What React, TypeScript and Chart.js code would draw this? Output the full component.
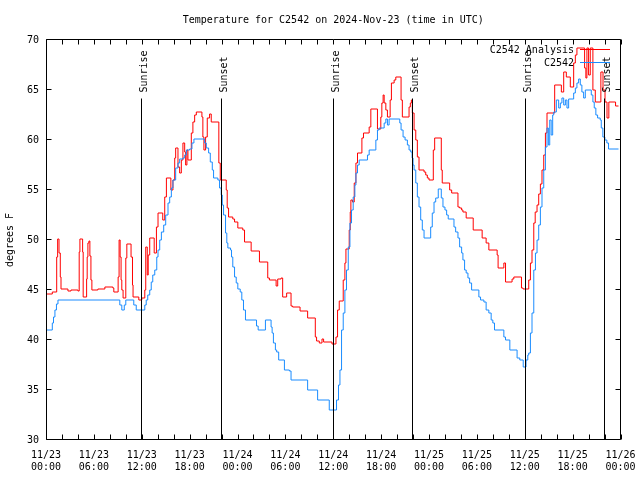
import React, { useEffect, useRef } from "react";
import { Chart, registerables } from "chart.js";

Chart.register(...registerables);

const TITLE = "Temperature for C2542 on 2024-Nov-23 (time in UTC)";
const Y_TITLE = "degrees F";
const ANALYSIS_NAME = "C2542 Analysis";
const STATION_NAME = "C2542";

// Hours since 2024-11-23 00:00 UTC, values in degrees F (step changes)
const analysisHours = [
  0, 0.79, 1.34, 1.46, 1.63, 1.79, 1.88, 2.75, 3.13, 4.0,
  4.16, 4.25, 4.59, 4.66, 5.09, 5.16, 5.25, 5.38, 5.5, 5.63,
  5.75, 6.5, 7.38, 8.38, 8.5, 9.04, 9.16, 9.29, 9.41, 9.5,
  9.66, 10.0, 10.13, 10.66, 10.84, 10.91, 11.63, 12.0, 12.38, 12.5,
  12.69, 12.81, 13.0, 13.56, 13.84, 14.04, 14.63, 14.88, 15.09, 15.65,
  15.91, 16.13, 16.25, 16.54, 16.75, 16.96, 17.16, 17.38, 17.5, 17.66,
  17.79, 18.21, 18.41, 18.63, 18.84, 19.54, 19.66, 19.79, 20.0, 20.21,
  20.5, 20.71, 21.66, 21.84, 22.59, 22.71, 22.88, 23.41, 23.63, 24.04,
  24.66, 24.88, 25.71, 26.75, 27.79, 28.0, 28.84, 29.04, 29.46, 29.66,
  30.16, 30.71, 30.91, 31.84, 32.79, 33.75, 33.91, 34.25, 34.59, 34.79,
  35.84, 36.34, 36.54, 36.75, 37.25, 37.46, 37.59, 38.0, 38.13, 38.21,
  38.41, 38.63, 38.84, 39.04, 39.59, 39.79, 40.5, 40.71, 41.54, 41.96,
  42.09, 42.25, 42.38, 42.59, 42.79, 43.13, 43.29, 43.63, 43.84, 44.5,
  44.66, 45.5, 45.66, 45.79, 45.91, 46.13, 46.34, 46.54, 46.75, 47.38,
  47.59, 47.79, 48.0, 48.54, 48.71, 49.54, 49.66, 50.59, 50.84, 51.63,
  51.84, 52.09, 52.25, 52.66, 53.54, 54.66, 55.16, 55.5, 56.54, 56.66,
  57.38, 57.59, 58.41, 58.63, 59.59, 59.79, 60.5, 60.71, 60.91, 61.13,
  61.31, 61.54, 61.75, 61.96, 62.16, 62.38, 62.59, 62.79, 63.75, 64.59,
  64.88, 65.21, 65.71, 66.13, 66.34, 66.54, 67.5, 67.66, 67.79, 68.0,
  68.21, 68.54, 68.84, 69.54, 69.81, 70.06, 70.31, 70.54, 71.38, 71.75,
];
const analysisTemps = [
  44.6, 44.8, 48.3, 50.1, 48.7, 46.3, 45.1, 44.9, 45, 44.9,
  48.8, 50.1, 48.8, 44.3, 46.1, 48.3, 49.7, 49.9, 48.4, 46,
  45, 45.1, 45.3, 45.2, 44.8, 46.3, 50, 48.3, 46, 45,
  44.2, 48.2, 49.6, 48.3, 45.5, 44.3, 44, 44.2, 45, 49.3,
  46.5, 48.5, 50.2, 48.7, 51.3, 52.7, 52, 54.3, 56.2, 55,
  56, 58.2, 59.2, 57.3, 56.7, 58, 59.7, 58.8, 57.5, 59,
  58, 60.7, 61.8, 62.5, 62.8, 62.3, 60.3, 59, 60.3, 62.2,
  62.6, 61.8, 57.7, 56, 55, 53.2, 52.3, 52.1, 51.8, 51.2,
  51, 49.8, 48.9, 47.8, 46.2, 46, 45.4, 46.1, 46.2, 44.3,
  44.7, 43.4, 43.3, 42.9, 42.2, 40.3, 39.9, 39.7, 40.1, 39.8,
  39.6, 40.3, 43, 43.9, 46, 47.7, 49.1, 51, 52.8, 54,
  53.8, 55.7, 57.7, 58.7, 60.2, 60.7, 61.3, 63.1, 61.1, 62.3,
  63.7, 64.5, 63.7, 63, 62.3, 64, 65.7, 66, 66.3, 64,
  62.3, 63.3, 63.7, 64, 62.7, 61, 60, 58.3, 57, 56.8,
  56.5, 56.2, 56, 59, 60.2, 57, 55.7, 55, 54.7, 53.3,
  53.2, 53, 52.8, 52.2, 51, 50.2, 49.7, 49, 48.5, 47.2,
  47.7, 45.8, 46.1, 46.3, 45.2, 45.1, 46, 47.7, 49, 51.7,
  52.8, 53.5, 54.6, 55.6, 57, 58.5, 60.7, 62.7, 65.5, 64.8,
  66.8, 66.3, 65.3, 67.7, 68.5, 69.2, 67.2, 66.2, 69.2, 66.5,
  69.2, 65, 63.8, 66.8, 65, 63.8, 62.2, 63.8, 63.4, 63.4,
];

const stationHours = [
  0, 0.79, 0.94, 1.12, 1.31, 1.5, 9.25, 9.5, 9.81, 10.0,
  11.0, 11.31, 12.38, 12.56, 12.75, 13.0, 13.19, 13.38, 13.63, 13.88,
  14.04, 14.25, 14.46, 14.75, 15.0, 15.29, 15.5, 15.71, 15.91, 16.25,
  16.54, 16.75, 17.16, 17.38, 17.59, 18.0, 18.29, 18.54, 19.88, 20.09,
  20.38, 20.59, 20.84, 21.0, 21.54, 21.75, 21.96, 22.09, 22.25, 22.5,
  22.66, 22.79, 23.13, 23.25, 23.41, 23.63, 23.84, 24.04, 24.34, 24.54,
  24.75, 25.0, 26.38, 26.59, 27.5, 28.21, 28.34, 28.5, 28.75, 28.91,
  29.16, 29.88, 30.5, 30.71, 32.79, 34.04, 35.5, 36.41, 36.66, 36.84,
  37.04, 37.25, 37.46, 37.66, 37.88, 38.09, 38.29, 38.5, 38.71, 38.84,
  39.04, 39.25, 40.29, 40.5, 41.34, 41.54, 41.75, 42.38, 42.59, 42.79,
  43.0, 44.34, 44.5, 44.75, 45.0, 45.29, 45.5, 45.71, 45.88, 46.0,
  46.13, 46.34, 46.54, 46.75, 46.96, 47.16, 47.38, 48.21, 48.41, 48.63,
  48.84, 49.16, 49.54, 49.75, 50.0, 50.21, 50.41, 51.13, 51.34, 51.63,
  51.84, 52.09, 52.25, 52.46, 52.66, 52.88, 53.09, 53.34, 54.25, 54.46,
  54.88, 55.16, 55.5, 55.79, 56.0, 56.21, 57.38, 57.59, 58.13, 59.04,
  59.38, 59.81, 60.16, 60.38, 60.5, 60.71, 60.91, 61.13, 61.34, 61.54,
  61.75, 61.96, 62.16, 62.38, 62.59, 62.79, 62.96, 63.13, 63.31, 63.5,
  63.63, 63.96, 64.25, 64.46, 64.66, 64.88, 65.09, 65.29, 65.5, 66.13,
  66.34, 66.54, 66.75, 66.96, 67.16, 67.38, 67.59, 68.34, 68.54, 68.71,
  68.91, 69.13, 69.46, 69.59, 69.79, 70.04, 70.29, 70.5, 71.75,
];
const stationTemps = [
  41, 41.7, 42.3, 43, 43.6, 44, 43.5, 43, 43.5, 44,
  43.5, 43, 43.5, 44, 44.5, 45, 45.8, 46.5, 47, 48.3,
  49, 50, 50.8, 51.5, 52.5, 53.7, 54.3, 55.2, 56, 57.2,
  57.7, 58.1, 58.2, 58.5, 59, 59.1, 59.7, 60.1, 59.7, 59.2,
  58.7, 57.8, 57, 56.2, 56, 55.2, 54.5, 53.5, 52.5, 50.7,
  49.7, 49.2, 49, 48.3, 47.3, 46.3, 45.7, 45.1, 44.8, 44,
  43, 42, 41.4, 41, 42, 41.3, 40.7, 39.7, 39, 38.8,
  38, 37, 36.9, 36, 35, 34, 33, 34, 35.5, 37,
  41, 42.7, 45, 47, 49.3, 51.7, 53, 54.3, 55.5, 56.7,
  57.5, 58, 58.5, 59, 60, 61, 61.2, 61.7, 62.1, 61.5,
  62.1, 61.7, 61, 60.3, 60, 59.5, 59, 58.8, 58.2, 57.5,
  57, 55.7, 54.3, 53.3, 52, 51, 50.2, 51.3, 52.7, 53.8,
  54.2, 55.1, 54.2, 53.3, 53, 52.5, 52.1, 51.3, 50.8, 50.2,
  49.3, 48.7, 48, 47, 46.7, 46.2, 45.7, 45, 44.3, 44,
  43.8, 43, 42.7, 42, 41.7, 41, 40.3, 40, 39, 38.2,
  38, 37.3, 38, 38.5, 38.7, 40.7, 42.7, 47, 48.7, 50,
  51.5, 53.3, 55.2, 57, 59.3, 61.2, 59.5, 62, 60.5, 62.5,
  62.8, 64, 63.2, 63.7, 64.2, 63.5, 64, 63.2, 64.1, 64.7,
  65.2, 65.7, 66.1, 65.5, 64.8, 64.2, 65, 64.5, 63.8, 63.2,
  62.5, 62.2, 62, 61.2, 60.3, 60, 59.7, 59.1, 59.1,
];

const xTickDates = ["11/23", "11/23", "11/23", "11/23", "11/24", "11/24", "11/24", "11/24", "11/25", "11/25", "11/25", "11/25", "11/26"];
const xTickTimes = ["00:00", "06:00", "12:00", "18:00", "00:00", "06:00", "12:00", "18:00", "00:00", "06:00", "12:00", "18:00", "00:00"];

const sunHours = [11.95, 21.95, 35.95, 45.9, 60.0, 69.95];
const sunLabels = ["Sunrise", "Sunset", "Sunrise", "Sunset", "Sunrise", "Sunset"];

const FONT = '10px "DejaVu Sans Mono"';
const RED = "#ff0000";
const BLUE = "#1a8cff";

function toPoints(xs: number[], ys: number[]) {
  return xs.map((x, i) => ({ x, y: ys[i] }));
}

const decorPlugin = {
  id: "gnuplotDecor",
  afterDraw(chart: any) {
    const { ctx, chartArea: a, scales } = chart;
    const xs = scales.x;
    const ys = scales.y;
    const L = Math.round(a.left) + 0.5;
    const R = Math.round(a.right) - 0.5;
    const T = Math.round(a.top) - 0.5;
    const B = Math.round(a.bottom) - 0.5;
    ctx.save();
    ctx.strokeStyle = "#000";
    ctx.fillStyle = "#000";
    ctx.lineWidth = 1;

    // sunrise / sunset lines
    ctx.beginPath();
    sunHours.forEach((h) => {
      const px = Math.round(xs.getPixelForValue(h)) + 0.5;
      ctx.moveTo(px, T + 59);
      ctx.lineTo(px, B);
    });
    ctx.stroke();

    // border
    ctx.beginPath();
    ctx.rect(L, T, R - L, B - T);
    ctx.stroke();

    // inward ticks
    ctx.beginPath();
    xs.ticks.forEach((t: any) => {
      const px = Math.round(xs.getPixelForValue(t.value)) + 0.5;
      ctx.moveTo(px, B);
      ctx.lineTo(px, B - 5);
      ctx.moveTo(px, T);
      ctx.lineTo(px, T + 5);
    });
    ys.ticks.forEach((t: any) => {
      const py = Math.round(ys.getPixelForValue(t.value)) - 0.5;
      ctx.moveTo(L, py);
      ctx.lineTo(L + 5, py);
      ctx.moveTo(R, py);
      ctx.lineTo(R - 5, py);
    });
    ctx.stroke();

    ctx.font = FONT;
    // sun labels
    sunHours.forEach((h, i) => {
      const px = Math.round(xs.getPixelForValue(h)) + 0.5;
      ctx.save();
      ctx.translate(px + 5, T + 53);
      ctx.rotate(-Math.PI / 2);
      ctx.textAlign = "left";
      ctx.textBaseline = "alphabetic";
      ctx.fillText(sunLabels[i], 0, 0);
      ctx.restore();
    });

    // title
    ctx.textAlign = "center";
    ctx.textBaseline = "middle";
    ctx.fillText(TITLE, (a.left + a.right) / 2, 20);

    // y title
    ctx.save();
    ctx.translate(10, (a.top + a.bottom) / 2);
    ctx.rotate(-Math.PI / 2);
    ctx.fillText(Y_TITLE, 0, 0);
    ctx.restore();

    // legend
    ctx.textAlign = "right";
    ctx.fillText(ANALYSIS_NAME, 574, 50.5);
    ctx.fillText(STATION_NAME, 574, 63);
    ctx.beginPath();
    ctx.strokeStyle = RED;
    ctx.moveTo(580, 49.5);
    ctx.lineTo(610, 49.5);
    ctx.stroke();
    ctx.beginPath();
    ctx.strokeStyle = BLUE;
    ctx.moveTo(580, 62.5);
    ctx.lineTo(610, 62.5);
    ctx.stroke();

    ctx.restore();
  },
};

export default function App() {
  const ref = useRef<HTMLCanvasElement | null>(null);

  useEffect(() => {
    if (!ref.current) return;
    Chart.defaults.color = "#000";
    Chart.defaults.font.family = '"DejaVu Sans Mono"';
    Chart.defaults.font.size = 10;
    const chart = new Chart(ref.current, {
      type: "line",
      data: {
        datasets: [
          {
            label: STATION_NAME,
            data: toPoints(stationHours, stationTemps),
            borderColor: BLUE,
            borderWidth: 1,
            pointRadius: 0,
            stepped: "before",
            fill: false,
          },
          {
            label: ANALYSIS_NAME,
            data: toPoints(analysisHours, analysisTemps),
            borderColor: RED,
            borderWidth: 1,
            pointRadius: 0,
            stepped: "before",
            fill: false,
          },
        ],
      },
      options: {
        animation: false,
        responsive: false,
        maintainAspectRatio: false,
        layout: { padding: { left: 0, right: 19.5, top: 40, bottom: 0 } },
        plugins: {
          legend: { display: false },
          title: { display: false },
          tooltip: { enabled: false },
        },
        scales: {
          x: {
            type: "linear",
            min: 0,
            max: 72,
            grid: { display: false, drawTicks: false },
            border: { display: false },
            ticks: {
              stepSize: 2,
              autoSkip: false,
              maxRotation: 0,
              minRotation: 0,
              padding: 9,
              font: { family: '"DejaVu Sans Mono"', size: 10 },
              callback: (value: any) => {
                const v = Number(value);
                if (Math.abs(v % 6) > 1e-6) return "";
                const i = Math.round(v / 6);
                return [xTickDates[i], xTickTimes[i]];
              },
            },
            afterFit: (scale: any) => {
              scale.height = 40;
              scale.paddingLeft = 0;
              scale.paddingRight = 0;
            },
          },
          y: {
            min: 30,
            max: 70,
            grid: { display: false, drawTicks: false },
            border: { display: false },
            ticks: {
              stepSize: 5,
              padding: 7,
              font: { family: '"DejaVu Sans Mono"', size: 10 },
            },
            afterFit: (scale: any) => {
              scale.width = 46;
              scale.paddingTop = 0;
              scale.paddingBottom = 0;
            },
          },
        },
      },
      plugins: [decorPlugin],
    });
    return () => chart.destroy();
  }, []);

  return (
    <div style={{ position: "absolute", left: 0, top: 0, width: 640, height: 480, background: "#fff" }}>
      <canvas ref={ref} width={640} height={480} style={{ display: "block" }} />
    </div>
  );
}
